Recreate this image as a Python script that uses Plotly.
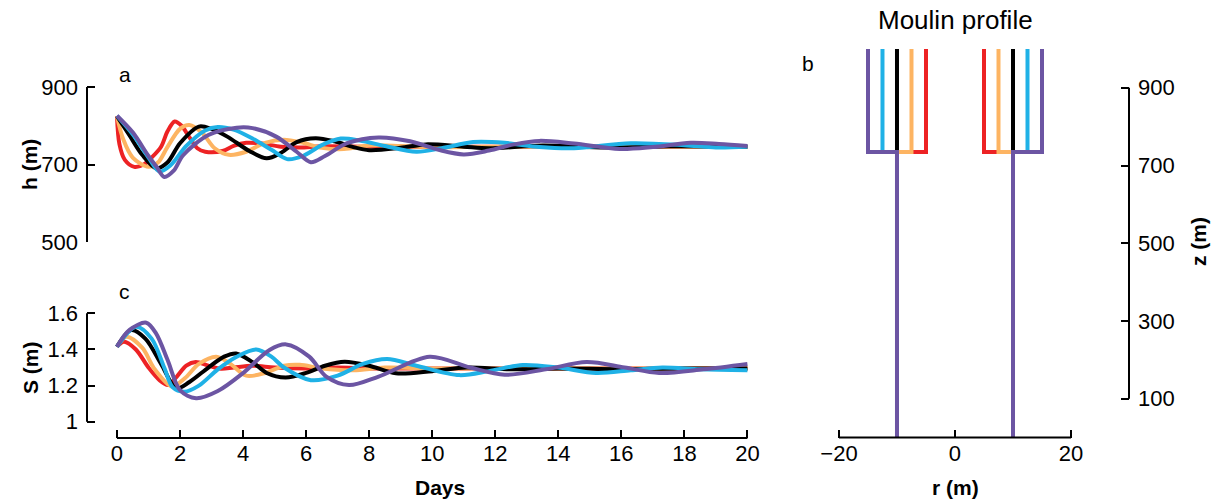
import plotly.graph_objects as go

W, H = 1216, 502

# ---------------- data ----------------
colors = {"red": "#ED2224", "orange": "#FDB462", "black": "#000000",
          "cyan": "#1FB1E6", "purple": "#6C55A3"}
order = ["red", "orange", "black", "cyan", "purple"]

# panel a: head h (m) vs days
h_days = {
    "red": [0, 0.08, 0.25, 0.55, 0.85, 1.1, 1.4, 1.6, 1.83, 2.05, 2.3, 2.55, 2.8, 3.35, 3.7, 4.1, 4.6, 5.2, 5.8, 6.5, 8, 10, 14, 20],
    "orange": [0, 0.2, 0.5, 1.0, 1.3, 1.6, 2.0, 2.3, 2.7, 3.1, 3.55, 4.1, 4.7, 5.3, 5.9, 6.5, 7.2, 8, 9, 10, 12, 16, 20],
    "black": [0, 0.4, 0.8, 1.25, 1.6, 2.0, 2.6, 3.0, 3.5, 4.2, 4.75, 5.2, 5.7, 6.3, 6.9, 7.5, 8.0, 9.0, 9.8, 11, 11.8, 13.5, 15.5, 17.5, 20],
    "cyan": [0, 0.5, 1.0, 1.35, 1.7, 2.2, 2.8, 3.2, 3.7, 4.3, 4.9, 5.4, 5.9, 6.5, 7.1, 7.7, 8.5, 9.5, 10.3, 11.3, 12.3, 13.4, 14.5, 16.3, 18.0, 19.0, 20],
    "purple": [0, 0.5, 1.0, 1.25, 1.5, 1.8, 2.1, 2.9, 3.8, 4.3, 5.05, 5.7, 6.15, 6.6, 7.3, 8.3, 9.3, 10.2, 11.0, 11.8, 12.6, 13.4, 14.5, 15.95, 17.0, 18.2, 19.1, 20],
}
h_vals = {
    "red": [825, 752, 712, 694, 700, 718, 746, 785, 811, 800, 770, 742, 733, 735, 748, 756, 754, 746, 744, 747, 746, 746, 746, 746],
    "orange": [825, 765, 718, 694, 705, 745, 792, 802, 782, 742, 725, 733, 756, 764, 756, 743, 740, 749, 748, 745, 746, 746, 746],
    "black": [825, 775, 725, 690, 705, 755, 798, 792, 772, 735, 716, 730, 758, 768, 760, 745, 737, 743, 752, 746, 742, 749, 744, 747, 746],
    "cyan": [826, 778, 718, 682, 698, 748, 788, 797, 790, 767, 738, 714, 722, 750, 767, 762, 748, 733, 742, 758, 756, 745, 742, 755, 750, 744, 746],
    "purple": [826, 783, 722, 695, 668, 684, 724, 776, 795, 794, 772, 733, 706, 722, 755, 770, 760, 738, 726, 736, 752, 761, 754, 740, 745, 756, 753, 748],
}

# panel c: S (m) vs days
s_days = {
    "red": [0, 0.22, 0.6, 1.0, 1.35, 1.62, 1.9, 2.2, 2.5, 2.9, 3.3, 3.7, 4.3, 5, 6, 7, 8, 10, 14, 20],
    "orange": [0, 0.3, 0.8, 1.2, 1.75, 2.15, 2.6, 3.15, 3.6, 4.1, 4.7, 5.3, 5.8, 6.5, 7.5, 8.5, 10, 14, 20],
    "black": [0, 0.45, 0.9, 1.4, 1.88, 2.3, 2.9, 3.4, 3.78, 4.3, 4.75, 5.35, 6.0, 6.6, 7.22, 8.0, 8.85, 10, 11.1, 12.5, 14, 16, 18, 20],
    "cyan": [0, 0.61, 1.1, 1.5, 1.77, 2.14, 2.6, 3.2, 3.8, 4.42, 4.9, 5.3, 6.15, 7.0, 7.8, 8.57, 9.5, 10.86, 11.8, 12.87, 14, 15.2, 16.3, 17.3, 18.5, 20],
    "purple": [0, 0.4, 0.93, 1.24, 1.61, 2.0, 2.51, 3.2, 3.99, 4.84, 5.37, 6.1, 6.64, 7.36, 8.3, 9.92, 11.2, 12.3, 13.6, 14.9, 16.1, 17.2, 18.6, 20],
}
s_vals = {
    "red": [1.415, 1.443, 1.40, 1.30, 1.23, 1.203, 1.25, 1.31, 1.33, 1.31, 1.293, 1.30, 1.31, 1.30, 1.295, 1.30, 1.295, 1.295, 1.295, 1.295],
    "orange": [1.415, 1.47, 1.41, 1.29, 1.195, 1.24, 1.32, 1.36, 1.32, 1.255, 1.27, 1.31, 1.315, 1.295, 1.285, 1.30, 1.295, 1.295, 1.295],
    "black": [1.415, 1.507, 1.46, 1.32, 1.185, 1.22, 1.30, 1.36, 1.378, 1.33, 1.27, 1.245, 1.27, 1.31, 1.332, 1.31, 1.268, 1.28, 1.30, 1.29, 1.295, 1.29, 1.295, 1.295],
    "cyan": [1.415, 1.526, 1.46, 1.30, 1.19, 1.166, 1.20, 1.29, 1.36, 1.40, 1.36, 1.30, 1.23, 1.255, 1.32, 1.347, 1.31, 1.258, 1.28, 1.314, 1.30, 1.27, 1.285, 1.30, 1.29, 1.285],
    "purple": [1.415, 1.508, 1.548, 1.489, 1.34, 1.175, 1.13, 1.17, 1.268, 1.397, 1.428, 1.36, 1.25, 1.203, 1.25, 1.36, 1.30, 1.26, 1.29, 1.33, 1.30, 1.27, 1.29, 1.32],
}

# panel b: moulin profile
moulin_top_radius = {"red": 5, "orange": 7.5, "black": 10, "cyan": 12.5, "purple": 15}
base_radius = 10
z_break = 735
z_top = 1000
z_bottom = 0

day_ticks = list(range(0, 21, 2))
h_ticks = [500, 700, 900]
s_ticks = [1, 1.2, 1.4, 1.6]
s_ticktext = ["1", "1.2", "1.4", "1.6"]
r_ticks = [-20, 0, 20]
r_ticktext = ["\u221220", "0", "20"]
z_ticks = [100, 300, 500, 700, 900]

# ---------------- figure ----------------
FONT = "Liberation Sans, Arial, Helvetica, sans-serif"
LW = 4
fig = go.Figure()

for c in order:
    fig.add_trace(go.Scatter(x=h_days[c], y=h_vals[c], mode="lines", xaxis="x", yaxis="y",
                             line=dict(color=colors[c], width=LW, shape="spline", smoothing=0.9),
                             showlegend=False, hoverinfo="skip"))
for c in order:
    fig.add_trace(go.Scatter(x=s_days[c], y=s_vals[c], mode="lines", xaxis="x2", yaxis="y2",
                             line=dict(color=colors[c], width=LW, shape="spline", smoothing=0.9),
                             showlegend=False, hoverinfo="skip"))
for c in order:
    r = moulin_top_radius[c]
    xs = [-r, -r, -base_radius, -base_radius, None, r, r, base_radius, base_radius]
    zs = [z_top, z_break, z_break, z_bottom, None, z_top, z_break, z_break, z_bottom]
    fig.add_trace(go.Scatter(x=xs, y=zs, mode="lines", xaxis="x3", yaxis="y3",
                             line=dict(color=colors[c], width=LW),
                             showlegend=False, hoverinfo="skip"))

def px(p):
    return p / W

def py(q):
    return 1 - q / H

tickfont = dict(family=FONT, size=22, color="black")
xdom = [px(87), px(749)]
xrange_days = [-0.95, 20.05]
common = dict(showgrid=False, zeroline=False, showline=False, automargin=False,
              ticklen=8, tickwidth=2, tickcolor="black", tickfont=tickfont)

fig.update_layout(
    width=W, height=H,
    margin=dict(l=0, r=0, t=0, b=0, autoexpand=False),
    paper_bgcolor="white", plot_bgcolor="white",
    font=dict(family=FONT, color="black"),
    xaxis=dict(domain=xdom, range=xrange_days, visible=False, anchor="y", automargin=False),
    yaxis=dict(domain=[py(242), py(70)], range=[500, 944], anchor="x",
               tickvals=h_ticks, ticks="inside", ticklabelstandoff=8, **common),
    xaxis2=dict(domain=xdom, range=xrange_days, anchor="y2",
                tickvals=day_ticks, ticks="inside", **common),
    yaxis2=dict(domain=[py(438), py(290)], range=[0.91, 1.729], anchor="x2",
                tickvals=s_ticks, ticktext=s_ticktext, ticks="inside", ticklabelstandoff=8, **common),
    xaxis3=dict(domain=[px(830), px(1129)], range=[-21.55, 30], anchor="y3",
                tickvals=r_ticks, ticktext=r_ticktext, ticks="inside", **common),
    yaxis3=dict(domain=[py(437.5), py(40)], range=[0, 1023], anchor="x3", side="right",
                tickvals=z_ticks, ticks="inside", ticklabelstandoff=8, **common),
)

spine = dict(color="black", width=2)
fig.add_shape(type="line", xref="x domain", yref="y", x0=0, x1=0, y0=h_ticks[0], y1=h_ticks[-1], line=spine)
fig.add_shape(type="line", xref="x2 domain", yref="y2", x0=0, x1=0, y0=s_ticks[0], y1=s_ticks[-1], line=spine)
fig.add_shape(type="line", xref="x2", yref="y2 domain", x0=day_ticks[0], x1=day_ticks[-1], y0=0, y1=0, line=spine)
fig.add_shape(type="line", xref="x3", yref="y3 domain", x0=r_ticks[0], x1=r_ticks[-1], y0=0, y1=0, line=spine)
fig.add_shape(type="line", xref="x3 domain", yref="y3", x0=1, x1=1, y0=z_ticks[0], y1=z_ticks[-1], line=spine)

def ann(text, x, y, size=21, bold=False, angle=0, xanchor="center"):
    t = f"<b>{text}</b>" if bold else text
    fig.add_annotation(text=t, x=px(x), y=py(y), xref="paper", yref="paper", showarrow=False,
                       textangle=angle, xanchor=xanchor, yanchor="middle",
                       font=dict(family=FONT, size=size, color="black"))

ann("h (m)", 30, 165, bold=True, angle=-90)
ann("S (m)", 30, 368, bold=True, angle=-90)
ann("Days", 440, 487, bold=True)
ann("r (m)", 955, 487, bold=True)
ann("z (m)", 1198, 242, bold=True, angle=-90)
ann("Moulin profile", 955, 20, size=26)
ann("a", 125, 75, size=21)
ann("c", 125, 291, size=21)
ann("b", 808, 63, size=21)

fig.write_html("out.html", config={"displayModeBar": False},
               post_script="document.body.style.margin='0';document.body.style.padding='0';"
                           "document.body.style.overflow='hidden';")
